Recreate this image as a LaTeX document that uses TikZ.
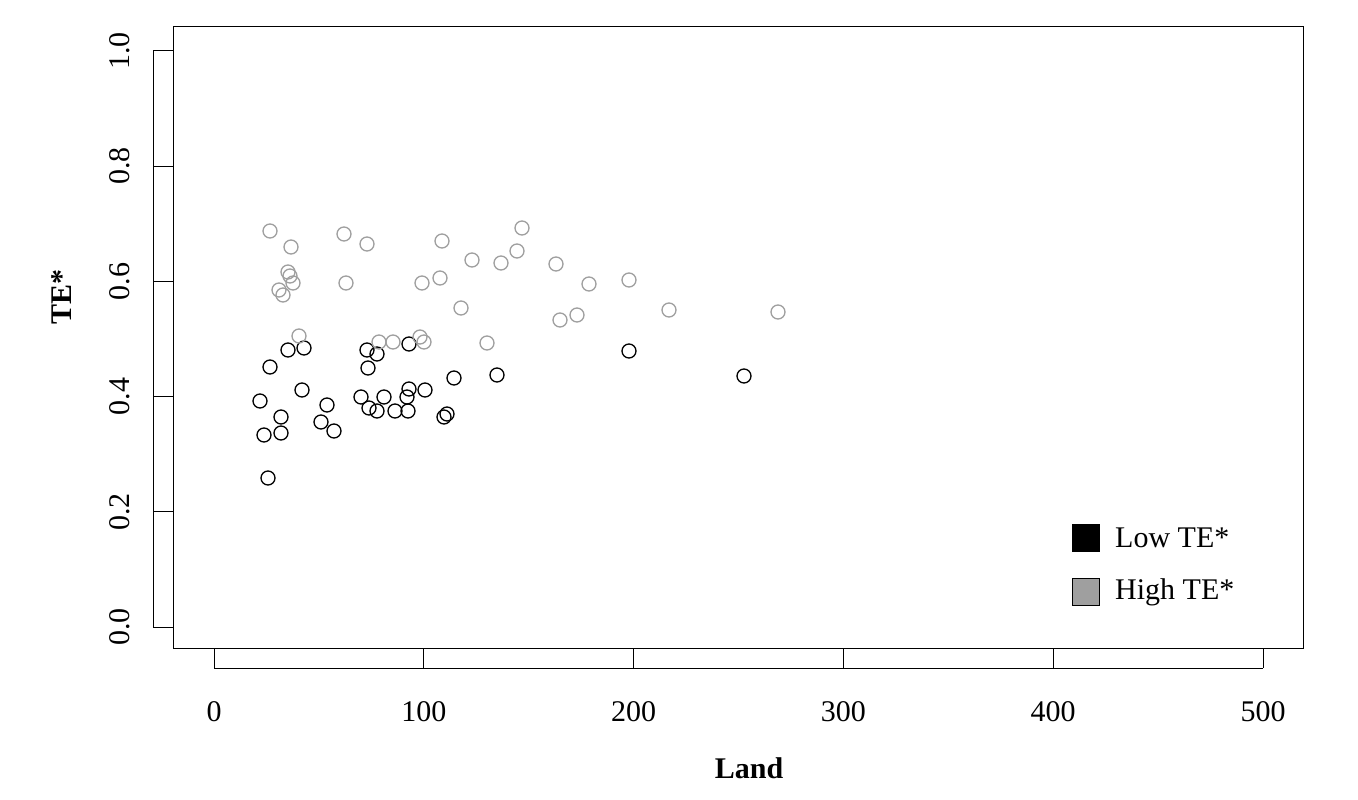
\documentclass[tikz,border=0pt]{standalone}
\usepackage{fontspec}
\setmainfont{Liberation Serif}
\begin{document}
\begin{tikzpicture}[x=1pt,y=-1pt,
  lo/.style={circle,draw=black,line width=1.3pt,minimum size=14pt,inner sep=0pt},
  hi/.style={circle,draw=gray!75,line width=1.3pt,minimum size=14pt,inner sep=0pt},
  lab/.style={font=\fontsize{30}{30}\selectfont,inner sep=0pt}]
\useasboundingbox (0,0) rectangle (1358,800);
\draw[line width=1pt] (173,27) rectangle (1303,648);
% x ticks
\foreach \v [count=\i] in {0,100,200,300,400,500}{
  \pgfmathsetmacro\px{214+\v*2.098}
  \draw[line width=1pt] (\px,648) -- (\px,668);
  \node[lab] (xt\i) at (\px,712) {\v};
}
\draw[line width=1pt] (214,668) -- (1263,668);
% y ticks
\foreach \v/\t [count=\i] in {0/0.0,0.2/0.2,0.4/0.4,0.6/0.6,0.8/0.8,1/1.0}{
  \pgfmathsetmacro\py{627-\v*576}
  \draw[line width=1pt] (173,\py) -- (153,\py);
  \node[lab,rotate=90] (yt\i) at (120,\py) {\t};
}
\draw[line width=1pt] (153,627) -- (153,51);
\node[lab,font=\fontsize{30}{30}\selectfont\bfseries] (xl) at (749,768) {Land};
\node[lab,font=\fontsize{30}{30}\selectfont\bfseries,rotate=90] (yl) at (62,297) {TE*};
% low
\foreach \x/\y [count=\i] in {260/401,264/435,268/478,270/367,281/417,281/433,288/350,302/390,304/348,321/422,327/405,334/431,361/397,367/350,368/368,369/408,377/354,377/411,384/397,395/411,407/397,408/411,409/344,409/389,425/390,444/417,447/414,454/378,497/375,629/351,744/376}
  \node[lo] (l\i) at (\x,\y) {};
% high
\foreach \x/\y [count=\i] in {270/231,279/290,283/295,288/272,291/247,290/276,293/283,299/336,344/234,346/283,367/244,379/342,393/342,420/337,422/283,424/342,440/278,442/241,461/308,472/260,487/343,501/263,517/251,522/228,556/264,560/320,577/315,589/284,629/280,669/310,778/312}
  \node[hi] (h\i) at (\x,\y) {};
% legend
\node[draw=black,fill=black,minimum size=27pt,inner sep=0pt] (k1) at (1086,538) {};
\node[draw=black,fill=gray!75,minimum size=27pt,inner sep=0pt] (k2) at (1086,592) {};
\node[lab,anchor=west] (t1) at (1115,538) {Low TE*};
\node[lab,anchor=west] (t2) at (1115,592) {High TE*};
\end{tikzpicture}
\end{document}
